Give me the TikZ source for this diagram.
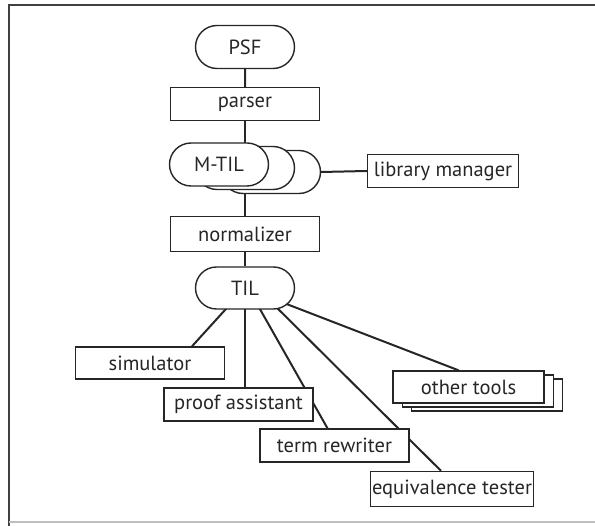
\documentclass[tikz,border=0pt]{standalone}
\usepackage{fontspec}
\setmainfont{PT Sans}
\usetikzlibrary{shapes.misc,calc,backgrounds}
\begin{document}
\begin{tikzpicture}[x=1pt,y=-1pt,
  ink/.style={draw=black!85,line width=1.4pt},
  label/.style={font=\fontsize{20.5}{24}\selectfont,text=black!85},
  box/.style={ink,label,fill=white,rectangle,inner sep=0pt,minimum width=149pt,minimum height=33pt},
  pill/.style={ink,label,fill=white,rounded rectangle,inner sep=0pt,minimum width=99pt,minimum height=43pt},
  link/.style={draw=black!85,line width=2pt}]
\useasboundingbox (0,0) rectangle (595,526);

% language layers and front-end tools
\node[pill] (psf) at (245,47) {PSF};
\node[box] (parser) at (245,104) {parser};
\node[pill] (mtil3) at (271,172) {};
\node[pill] (mtil2) at (245,168) {};
\node[pill] (mtil) at (219,164.5) {M-TIL};
\node[box,minimum width=151pt] (libman) at (443,171) {library manager};
\node[box,minimum height=35pt] (norm) at (245,234) {normalizer};
\node[pill,minimum height=42pt] (til) at (245,288) {TIL};

% back-end tools
\node[box,minimum height=32pt] (sim) at (150,363) {simulator};
\node[box] (pa) at (238.5,404.5) {proof assistant};
\node[box] (tr) at (334.5,445.5) {term rewriter};
\node[box,minimum width=163pt,minimum height=35pt] (eq) at (452,489) {equivalence tester};
\node[box,minimum width=151pt,minimum height=32pt] (ot3) at (487,395) {};
\node[box,minimum width=151pt,minimum height=32pt] (ot2) at (478,391) {};
\node[box,minimum width=151pt,minimum height=32pt] (ot) at (468.5,387) {other tools};

\begin{scope}[on background layer]
  % frame
  \draw[draw=black!75,line width=1.8pt] (9,526) -- (9,5) -- (595,5);
  \draw[draw=black!25,line width=1.2pt] (9,522) -- (595,522);
  % connectors
  \draw[link] (psf) -- (parser);
  \draw[link] (parser) -- (norm);
  \draw[link] (mtil3.east) -- (libman.west);
  \draw[link] (norm) -- (til);
  \draw[link] (til.center) -- ($(sim.north)+(42,0)$);
  \draw[link] (til.center) -- (til.center |- pa.north);
  \draw[link] ($(til.center)+(3,0)$) -- ($(tr.north)+(-7,0)$);
  \draw[link] ($(til.center)+(12,0)$) -- ($(eq.north)+(-11,0)$);
  \draw[link] (til.center) -- ($(ot.north)+(-10,0)$);
\end{scope}
\end{tikzpicture}
\end{document}
